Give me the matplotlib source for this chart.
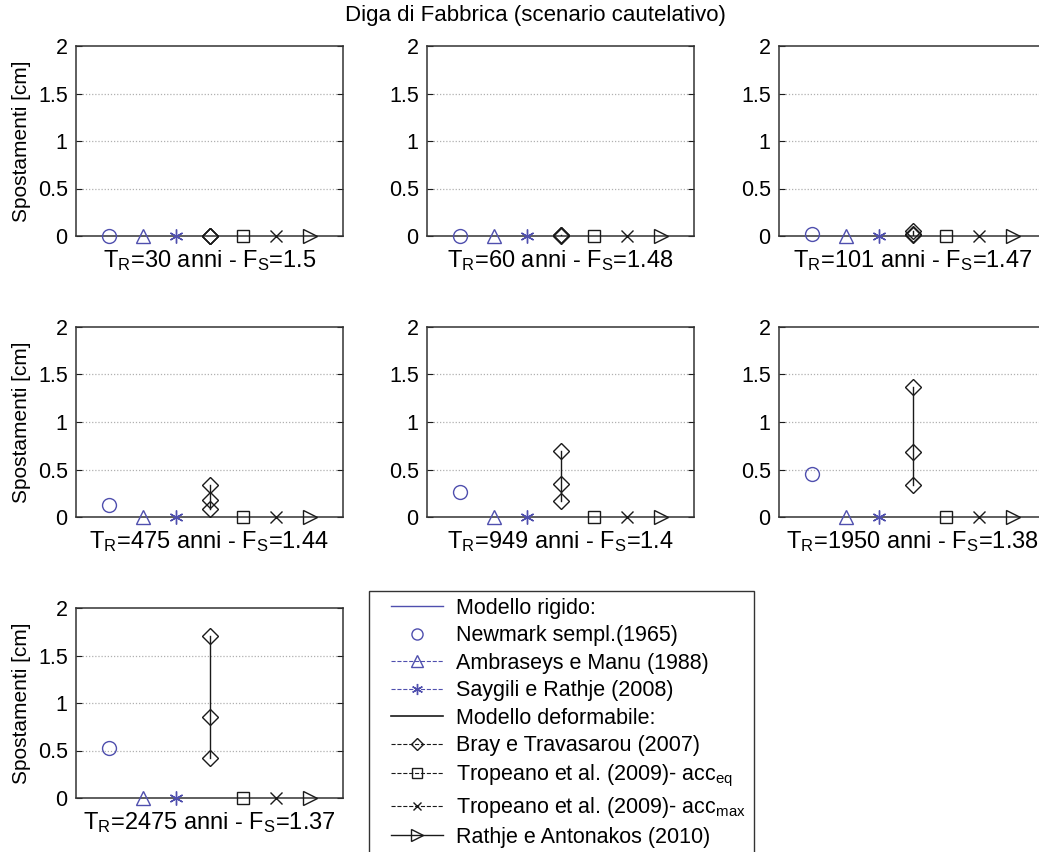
import matplotlib
matplotlib.use("Agg")
import matplotlib.pyplot as plt
from matplotlib.lines import Line2D
from matplotlib.patches import Rectangle

# ---------------------------------------------------------------
# data (displacements in cm)
# ---------------------------------------------------------------
tr_years = ["30", "60", "101", "475", "949", "1950", "2475"]
fs_values = ["1.5", "1.48", "1.47", "1.44", "1.4", "1.38", "1.37"]

newmark = [0.0, 0.005, 0.02, 0.13, 0.26, 0.45, 0.53]
ambraseys = [0.0, 0.0, 0.0, 0.0, 0.0, 0.0, 0.0]
saygili = [0.0, 0.0, 0.0, 0.0, 0.0, 0.0, 0.0]
bray_lo = [0.0, 0.003, 0.01, 0.085, 0.17, 0.34, 0.42]
bray_mid = [0.0, 0.007, 0.025, 0.18, 0.35, 0.68, 0.85]
bray_hi = [0.0, 0.015, 0.05, 0.34, 0.70, 1.37, 1.71]
tropeano_eq = [0.0, 0.0, 0.0, 0.0, 0.0, 0.0, 0.0]
tropeano_max = [0.0, 0.0, 0.0, 0.0, 0.0, 0.0, 0.0]
rathje = [0.0, 0.0, 0.0, 0.0, 0.0, 0.0, 0.0]

legend_labels = [
    "Modello rigido:",
    "Newmark sempl.(1965)",
    "Ambraseys e Manu (1988)",
    "Saygili e Rathje (2008)",
    "Modello deformabile:",
    "Bray e Travasarou (2007)",
    "Tropeano et al. (2009)- acc$_{eq}$",
    "Tropeano et al. (2009)- acc$_{max}$",
    "Rathje e Antonakos (2010)",
]

# ---------------------------------------------------------------
# style
# ---------------------------------------------------------------
plt.rcParams.update({
    "font.family": ["Liberation Sans", "DejaVu Sans"],
    "mathtext.fontset": "custom",
    "mathtext.rm": "Liberation Sans",
    "mathtext.it": "Liberation Sans",
    "mathtext.bf": "Liberation Sans",
    "mathtext.default": "regular",
})

BLUE = "#4f4fae"
BLACK = "#1a1a1a"
ASTERISK = (6, 2, 0)

W, H = 1039, 852
fig = plt.figure(figsize=(W / 100, H / 100), dpi=100)

col_left = [76, 427, 779]
row_bottom = [236, 517, 798]
ax_w, ax_h = 267, 190


def px_rect(left, bottom):
    return [left / W, 1 - bottom / H, ax_w / W, ax_h / H]


x_pos = [1, 2, 3, 4, 5, 6, 7]

for i in range(7):
    r, c = divmod(i, 3)
    ax = fig.add_axes(px_rect(col_left[c], row_bottom[r]))

    mk = dict(markerfacecolor="none", linestyle="none", clip_on=False,
              markeredgewidth=1.0, zorder=5)
    ax.plot(x_pos[0], newmark[i], marker="o", markersize=10,
            markeredgecolor=BLUE, **mk)
    ax.plot(x_pos[1], ambraseys[i], marker="^", markersize=10,
            markeredgecolor=BLUE, **mk)
    ax.plot(x_pos[2], saygili[i], marker=ASTERISK, markersize=10,
            markeredgecolor=BLUE, **mk)

    bray = [bray_lo[i], bray_mid[i], bray_hi[i]]
    ax.plot([x_pos[3], x_pos[3]], [min(bray), max(bray)], color=BLACK,
            linewidth=1.0, zorder=4)
    ax.plot([x_pos[3]] * 3, bray, marker="D", markersize=8,
            markeredgecolor=BLACK, **mk)
    ax.plot(x_pos[4], tropeano_eq[i], marker="s", markersize=9,
            markeredgecolor=BLACK, **mk)
    ax.plot(x_pos[5], tropeano_max[i], marker="x", markersize=8,
            markeredgecolor=BLACK, **mk)
    ax.plot(x_pos[6], rathje[i], marker=">", markersize=10,
            markeredgecolor=BLACK, **mk)

    ax.set_xlim(0, 8)
    ax.set_ylim(0, 2)
    ax.set_yticks([0, 0.5, 1, 1.5, 2])
    ax.set_yticklabels(["0", "0.5", "1", "1.5", "2"])
    ax.set_xticks([])
    ax.tick_params(axis="y", direction="in", length=4, labelsize=15.5,
                   right=True, pad=6, color=BLACK)
    for s in ax.spines.values():
        s.set_linewidth(1.1)
        s.set_color("#333333")
    for g in [0.5, 1.0, 1.5]:
        ax.axhline(g, color="#b0b0b0", linestyle=(0, (1, 1.5)),
                   linewidth=0.9, zorder=1)

    ax.set_xlabel("T$_R$=%s anni - F$_S$=%s" % (tr_years[i], fs_values[i]),
                  fontsize=17, labelpad=9)
    if c == 0:
        ax.set_ylabel("Spostamenti [cm]", fontsize=15, labelpad=5)

fig.text(535 / W, 1 - 16 / H, "Diga di Fabbrica (scenario cautelativo)",
         ha="center", va="center", fontsize=16)

# ---------------------------------------------------------------
# legend (frame drawn by hand so the entries can sit further in)
# ---------------------------------------------------------------
handles = [
    Line2D([], [], color=BLUE, linewidth=1.0),
    Line2D([], [], color=BLUE, linestyle="none", marker="o",
           markerfacecolor="none", markersize=8),
    Line2D([], [], color=BLUE, linestyle="--", linewidth=0.8, marker="^",
           markerfacecolor="none", markersize=8),
    Line2D([], [], color=BLUE, linestyle="--", linewidth=0.8, marker=ASTERISK,
           markersize=8),
    Line2D([], [], color=BLACK, linewidth=1.2),
    Line2D([], [], color=BLACK, linestyle="--", linewidth=0.8, marker="D",
           markerfacecolor="none", markersize=6),
    Line2D([], [], color=BLACK, linestyle="--", linewidth=0.8, marker="s",
           markerfacecolor="none", markersize=7),
    Line2D([], [], color=BLACK, linestyle="--", linewidth=0.8, marker="x",
           markersize=6),
    Line2D([], [], color=BLACK, linewidth=1.0, marker=">",
           markerfacecolor="none", markersize=8),
]

fig.legend(handles, legend_labels, loc="upper left",
           bbox_to_anchor=(391 / W, 1 - 598 / H), borderaxespad=0,
           fontsize=15.5, handlelength=2.4, handletextpad=0.6,
           labelspacing=0.3, borderpad=0, frameon=False)
fig.patches.append(Rectangle((369 / W, -0.02), (754 - 369) / W,
                             (852 - 591) / H + 0.02,
                             transform=fig.transFigure, fill=False,
                             edgecolor="#333333", linewidth=1.0))

fig.savefig("out.png", dpi=100)
